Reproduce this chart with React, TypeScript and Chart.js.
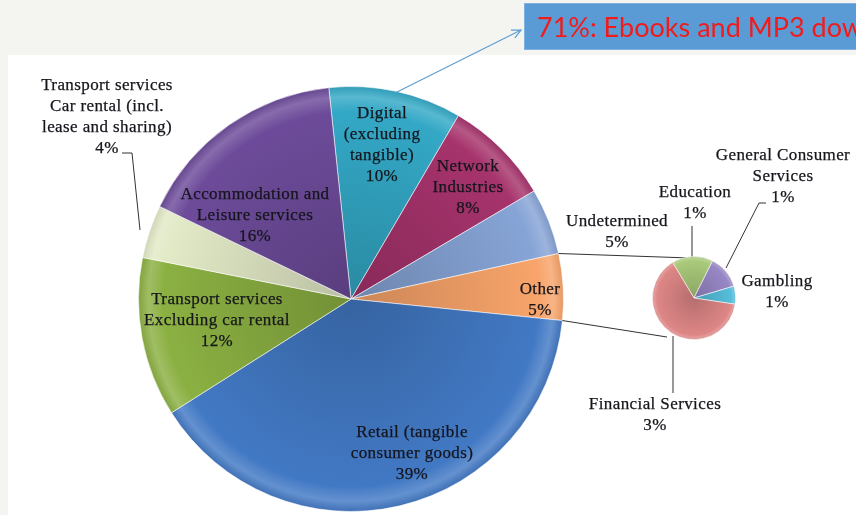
import React, { useEffect, useRef } from "react";
import { Chart, registerables } from "chart.js";
Chart.register(...registerables);

// ---------- data ----------
const mainCategories = [
  "Digital (excluding tangible)",
  "Network Industries",
  "Undetermined",
  "Other",
  "Retail (tangible consumer goods)",
  "Transport services Excluding car rental",
  "Transport services Car rental (incl. lease and sharing)",
  "Accommodation and Leisure services",
];
const mainValues = [10, 8, 5, 5, 39, 12, 4, 16];
const mainLabelLines = [
  ["Digital", "(excluding", "tangible)"],
  ["Network", "Industries"],
  ["Undetermined"],
  ["Other"],
  ["Retail (tangible", "consumer goods)"],
  ["Transport services", "Excluding car rental"],
  ["Transport services", "Car rental (incl.", "lease and sharing)"],
  ["Accommodation and", "Leisure services"],
];
const otherCategories = ["Education", "General Consumer Services", "Gambling", "Financial Services"];
const otherValues = [0.8, 0.65, 0.35, 3.2];
const otherPctLabels = ["1%", "1%", "1%", "3%"];
const otherLabelLines = [["Education"], ["General Consumer", "Services"], ["Gambling"], ["Financial Services"]];
const calloutText = "71%: Ebooks and MP3 downloads";

// ---------- styles / layout ----------
const mainColors = ["#33a8c6", "#a6336c", "#86a4d6", "#f8a46a", "#4279c4", "#8bb042", "#e2e9c6", "#6d4b9a"];
const otherColors = ["#a9c97a", "#9887c6", "#55bedb", "#de8686"];
const mainLabelPos: [number, number][] = [
  [382, 114], [468, 167], [617, 222], [540, 290], [412, 433], [217, 300], [107, 86], [255, 195],
];
const otherLabelPos: [number, number][] = [[695, 193], [783, 156], [777, 282], [655, 405]];
const LH = 21;

function shade(hex: string, f: number) {
  const n = parseInt(hex.slice(1), 16);
  let r = (n >> 16) & 255, g = (n >> 8) & 255, b = n & 255;
  if (f >= 0) {
    r = r + (255 - r) * f; g = g + (255 - g) * f; b = b + (255 - b) * f;
  } else {
    r = r * (1 + f); g = g * (1 + f); b = b * (1 + f);
  }
  return `rgb(${Math.round(r)},${Math.round(g)},${Math.round(b)})`;
}

function gradFill(colors: string[]) {
  return (ctx: any) => {
    const base = colors[ctx.dataIndex] || colors[0];
    const chart = ctx.chart;
    const area = chart.chartArea;
    if (!area) return base;
    const cx = (area.left + area.right) / 2, cy = (area.top + area.bottom) / 2;
    const r = Math.min(area.width, area.height) / 2;
    const g = chart.ctx.createRadialGradient(cx, cy, 0, cx, cy, r);
    g.addColorStop(0, shade(base, -0.18));
    g.addColorStop(0.88, base);
    g.addColorStop(0.95, shade(base, 0.18));
    g.addColorStop(1, shade(base, -0.08));
    return g;
  };
}

function drawLines(ctx: CanvasRenderingContext2D, lines: string[], x: number, y: number) {
  lines.forEach((t, i) => ctx.fillText(t, x, y + i * LH));
}

function polyline(ctx: CanvasRenderingContext2D, pts: number[][]) {
  ctx.beginPath();
  ctx.moveTo(pts[0][0], pts[0][1]);
  for (let i = 1; i < pts.length; i++) ctx.lineTo(pts[i][0], pts[i][1]);
  ctx.stroke();
}

const overlayPlugin = {
  id: "overlay",
  beforeDraw(chart: any) {
    const ctx = chart.ctx as CanvasRenderingContext2D;
    ctx.save();
    ctx.fillStyle = "#f4f5f0";
    ctx.fillRect(0, 0, chart.width, chart.height);
    ctx.fillStyle = "#ffffff";
    ctx.fillRect(8, 55, chart.width - 8, chart.height - 55);
    ctx.restore();
  },
  afterDraw(chart: any) {
    const ctx = chart.ctx as CanvasRenderingContext2D;
    ctx.save();
    // connector lines from "Other" slice to secondary pie
    const arc = chart.getDatasetMeta(0).data[3];
    const p = arc.getProps(["x", "y", "startAngle", "endAngle", "outerRadius"], true);
    ctx.strokeStyle = "#333";
    ctx.lineWidth = 1;
    polyline(ctx, [[p.x + p.outerRadius * Math.cos(p.startAngle), p.y + p.outerRadius * Math.sin(p.startAngle)], [690, 258]]);
    polyline(ctx, [[p.x + p.outerRadius * Math.cos(p.endAngle), p.y + p.outerRadius * Math.sin(p.endAngle)], [667, 337]]);
    // leader lines
    polyline(ctx, [[122, 153], [132, 153], [140, 230]]);
    polyline(ctx, [[692, 226], [692, 258]]);
    polyline(ctx, [[766, 203], [759, 203], [726, 268]]);
    polyline(ctx, [[673, 336], [673, 393]]);

    // labels
    ctx.fillStyle = "#15151c";
    ctx.strokeStyle = "#15151c";
    ctx.lineWidth = 0.25;
    ctx.font = "17px 'Liberation Serif'";
    (ctx as any).letterSpacing = "0.4px";
    ctx.textAlign = "center";
    ctx.textBaseline = "middle";
    const put = (lines: string[], x: number, y: number) => {
      lines.forEach((t, i) => {
        ctx.fillText(t, x, y + i * LH);
        ctx.strokeText(t, x, y + i * LH);
      });
    };
    mainLabelLines.forEach((lines, i) => {
      const [x, y] = mainLabelPos[i];
      put([...lines, `${mainValues[i]}%`], x, y);
    });
    otherLabelLines.forEach((lines, i) => {
      const [x, y] = otherLabelPos[i];
      put([...lines, otherPctLabels[i]], x, y);
    });

    // callout box
    (ctx as any).letterSpacing = "0px";
    ctx.fillStyle = "#5b9bd5";
    ctx.fillRect(524, 3, chart.width - 524, 47);
    ctx.strokeStyle = "#7fb0e0";
    ctx.lineWidth = 1;
    ctx.strokeRect(524.5, 3.5, chart.width - 524, 46);
    ctx.fillStyle = "#f01c1c";
    ctx.font = "27px Lato";
    ctx.textAlign = "left";
    ctx.fillText(calloutText, 537, 28);

    // arrow
    ctx.strokeStyle = "#5b9bd5";
    ctx.lineWidth = 1.2;
    polyline(ctx, [[395, 93], [521, 30]]);
    const ang = Math.atan2(30 - 93, 521 - 395);
    const ah = 10;
    polyline(ctx, [
      [521 - ah * Math.cos(ang - 0.45), 30 - ah * Math.sin(ang - 0.45)],
      [521, 30],
      [521 - ah * Math.cos(ang + 0.45), 30 - ah * Math.sin(ang + 0.45)],
    ]);
    ctx.restore();
  },
};

export default function App() {
  const mainRef = useRef<HTMLCanvasElement>(null);
  const otherRef = useRef<HTMLCanvasElement>(null);

  useEffect(() => {
    const main = new Chart(mainRef.current!, {
      type: "pie",
      data: {
        labels: mainCategories,
        datasets: [
          {
            data: mainValues,
            backgroundColor: gradFill(mainColors) as any,
            borderColor: "rgba(255,255,255,0.55)",
            borderWidth: 1,
          },
        ],
      },
      options: {
        animation: false,
        responsive: false,
        events: [],
        rotation: -6,
        layout: { padding: { left: 138, right: 292, top: 86, bottom: 3 } },
        plugins: { legend: { display: false }, tooltip: { enabled: false } },
      },
      plugins: [overlayPlugin],
    });
    const other = new Chart(otherRef.current!, {
      type: "pie",
      data: {
        labels: otherCategories,
        datasets: [
          {
            data: otherValues,
            backgroundColor: gradFill(otherColors) as any,
            borderColor: "rgba(255,255,255,0.55)",
            borderWidth: 1,
          },
        ],
      },
      options: {
        animation: false,
        responsive: false,
        events: [],
        rotation: -31,
        layout: { padding: 3 },
        plugins: { legend: { display: false }, tooltip: { enabled: false } },
      },
    });
    return () => {
      main.destroy();
      other.destroy();
    };
  }, []);

  return (
    <div style={{ position: "fixed", left: 0, top: 0, width: 856, height: 515, overflow: "hidden" }}>
      <canvas ref={mainRef} width={856} height={515} style={{ position: "absolute", left: 0, top: 0, width: 856, height: 515 }} />
      <canvas ref={otherRef} width={90} height={90} style={{ position: "absolute", left: 649, top: 253, width: 90, height: 90 }} />
    </div>
  );
}
